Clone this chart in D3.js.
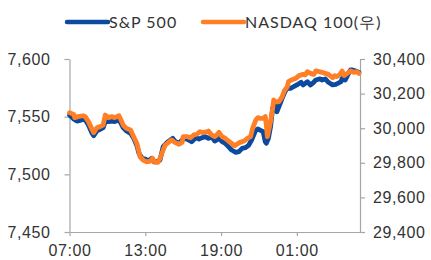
<!DOCTYPE html>
<html>
<head>
<meta charset="utf-8">
<script src="https://cdn.jsdelivr.net/npm/d3@7"></script>
<style>
  body { margin: 0; background: #fff; }
  svg { display: block; font-family: Lato, "Noto Sans", sans-serif; }
  .axis text { font-size: 16px; fill: #333; letter-spacing: 0.6px; }
  .axis path, .axis line { stroke: #a6a6a6; stroke-width: 1.2; }
  .legend text { letter-spacing: 1px; }
</style>
</head>
<body>
<div id="vis"></div>
<script>
// series names
const seriesNames = ['S&P 500', 'NASDAQ 100(우)']

// S&P 500 (left axis)
const spTimes = ['07:00','07:20','07:35','07:50','08:05','08:15','08:30','08:45','08:55','09:10','09:25','09:40','09:50','10:05','10:20','10:35','10:55','11:05','11:15','11:30','11:50','12:05','12:20','12:30','12:45','13:00','13:15','13:30','13:40','13:55','14:10','14:25','14:45','15:00','15:10','15:20','15:40','15:55','16:10','16:25','16:40','17:00','17:15','17:30','17:45','18:00','18:15','18:30','18:40','18:50','19:05','19:20','19:35','19:50','20:10','20:25','20:40','20:55','21:10','21:25','21:45','21:55','22:05','22:20','22:30','22:35','22:45','22:55','23:05','23:15','23:25','23:35','23:50','00:05','00:15','00:30','00:45','01:00','01:20','01:30','01:40','01:50','02:05','02:20','02:30','02:50','03:00','03:15','03:30','03:50','04:05','04:15','04:30','04:35','04:50','05:00','05:15','05:25','05:40','05:55']
const spValues = [7551.4,7548.0,7546.2,7546.8,7547.7,7547.1,7542.8,7536.4,7533.5,7537.6,7539.0,7540.5,7545.7,7545.7,7546.2,7545.7,7547.1,7544.2,7540.5,7537.6,7535.6,7531.2,7524.9,7518.2,7513.9,7513.3,7511.6,7513.9,7511.0,7511.0,7512.4,7524.0,7527.8,7529.8,7531.2,7528.9,7526.9,7529.8,7531.2,7529.8,7528.3,7531.8,7530.6,7531.8,7532.7,7531.2,7532.7,7528.9,7529.8,7531.2,7528.3,7526.9,7524.0,7521.1,7519.1,7519.7,7522.5,7523.1,7524.9,7529.8,7538.4,7539.3,7538.4,7537.0,7528.3,7526.9,7531.2,7541.3,7557.2,7561.6,7554.3,7558.7,7565.9,7572.3,7574.6,7574.6,7576.0,7577.5,7579.8,7577.5,7578.9,7580.3,7577.5,7579.8,7581.8,7582.7,7581.8,7582.7,7579.8,7577.5,7578.0,7578.9,7580.3,7583.2,7581.8,7585.6,7590.5,7590.5,7589.6,7588.4]

// NASDAQ 100 (right axis)
const ndxTimes = ['07:00','07:20','07:25','07:40','08:05','08:15','08:30','08:45','08:55','09:10','09:25','09:40','09:50','10:05','10:20','10:35','10:55','11:05','11:15','11:30','11:50','12:05','12:20','12:30','12:35','12:50','13:05','13:25','13:35','13:45','14:00','14:10','14:25','14:35','14:50','15:05','15:20','15:40','15:55','16:00','16:20','16:35','16:50','17:05','17:20','17:35','17:55','18:00','18:15','18:30','18:40','18:50','19:05','19:20','19:35','19:50','20:05','20:15','20:30','20:50','21:05','21:20','21:30','21:45','21:55','22:05','22:20','22:30','22:35','22:40','22:45','22:55','23:05','23:10','23:20','23:35','23:50','00:00','00:15','00:20','00:35','00:45','00:55','01:10','01:30','01:40','01:50','02:05','02:20','02:30','02:45','03:00','03:15','03:30','03:50','04:00','04:10','04:25','04:35','04:45','05:00','05:15','05:30','05:45','05:55']
const ndxValues = [30090,30080,30061,30067,30072,30067,30038,29999,29974,30003,30009,30018,30076,30061,30067,30061,30072,30047,30018,29999,29990,29951,29912,29864,29835,29816,29806,29810,29826,29803,29803,29826,29874,29903,29918,29932,29918,29907,29918,29951,29951,29945,29961,29965,29980,29974,29980,29984,29961,29951,29961,29976,29951,29941,29926,29912,29899,29907,29918,29926,29941,29951,29999,30047,30061,30057,30057,30067,30018,29951,29980,30038,30115,30163,30153,30153,30182,30215,30240,30269,30279,30284,30288,30304,30311,30308,30327,30317,30311,30331,30327,30323,30317,30311,30292,30304,30298,30311,30331,30304,30317,30331,30323,30327,30317]

// axes
const xTickLabels = ['07:00', '13:00', '19:00', '01:00']
const xDomainLabels = ['07:00', '06:00']
const leftTicks = [7450, 7500, 7550, 7600]
const rightTicks = [29400, 29600, 29800, 30000, 30200, 30400]

const colors = ['#0b4a9e', '#ff7f27']

const W = 431, H = 260
const margin = {left: 69.5, right: 71, top: 59, bottom: 28}

// hours before 07:00 belong to the next day
function toDate(s){
    const [h, m] = s.split(':').map(Number)
    return new Date(2024, 0, h < 7 ? 2 : 1, h, m)
}

const svg = d3.select('#vis').append('svg')
    .attr('width', W)
    .attr('height', H)

const x = d3.scaleTime()
    .domain(xDomainLabels.map(toDate))
    .range([margin.left, W - margin.right])

const yLeft = d3.scaleLinear()
    .domain(d3.extent(leftTicks))
    .range([H - margin.bottom, margin.top])

const yRight = d3.scaleLinear()
    .domain(d3.extent(rightTicks))
    .range([H - margin.bottom, margin.top])

// axes
svg.append('g')
    .attr('class', 'axis')
    .attr('transform', `translate(0,${H - margin.bottom})`)
    .call(d3.axisBottom(x)
        .tickValues(xTickLabels.map(toDate))
        .tickFormat(d3.timeFormat('%H:%M'))
        .tickSize(4).tickSizeOuter(0).tickPadding(9))

svg.append('g')
    .attr('class', 'axis')
    .attr('transform', `translate(${margin.left},0)`)
    .call(d3.axisLeft(yLeft)
        .tickValues(leftTicks)
        .tickFormat(d3.format(','))
        .tickSize(5).tickSizeOuter(0).tickPadding(14))

svg.append('g')
    .attr('class', 'axis')
    .attr('transform', `translate(${W - margin.right},0)`)
    .call(d3.axisRight(yRight)
        .tickValues(rightTicks)
        .tickFormat(d3.format(','))
        .tickSize(5).tickSizeOuter(0).tickPadding(8))

// lines
const spData = spTimes.map((t, i) => ({date: toDate(t), value: spValues[i]}))
const ndxData = ndxTimes.map((t, i) => ({date: toDate(t), value: ndxValues[i]}))

const lineLeft = d3.line().x(d => x(d.date)).y(d => yLeft(d.value))
const lineRight = d3.line().x(d => x(d.date)).y(d => yRight(d.value))

svg.append('path')
    .datum(spData)
    .attr('d', lineLeft)
    .attr('fill', 'none')
    .attr('stroke', colors[0])
    .attr('stroke-width', 4.8)
    .attr('stroke-linejoin', 'round')
    .attr('stroke-linecap', 'round')

svg.append('path')
    .datum(ndxData)
    .attr('d', lineRight)
    .attr('fill', 'none')
    .attr('stroke', colors[1])
    .attr('stroke-width', 4.8)
    .attr('stroke-linejoin', 'round')
    .attr('stroke-linecap', 'round')

// legend
const legendX = [67, 203]
const legend = svg.append('g').attr('class', 'legend')
seriesNames.forEach((name, i) => {
    const g = legend.append('g').attr('transform', `translate(${legendX[i]},22)`)
    g.append('line')
        .attr('x1', 0).attr('x2', 41)
        .attr('stroke', colors[i])
        .attr('stroke-width', 4.5)
        .attr('stroke-linecap', 'round')
    g.append('text')
        .attr('x', 42)
        .attr('dy', '0.35em')
        .attr('font-size', 16)
        .attr('fill', '#333')
        .text(name)
})
</script>
</body>
</html>
